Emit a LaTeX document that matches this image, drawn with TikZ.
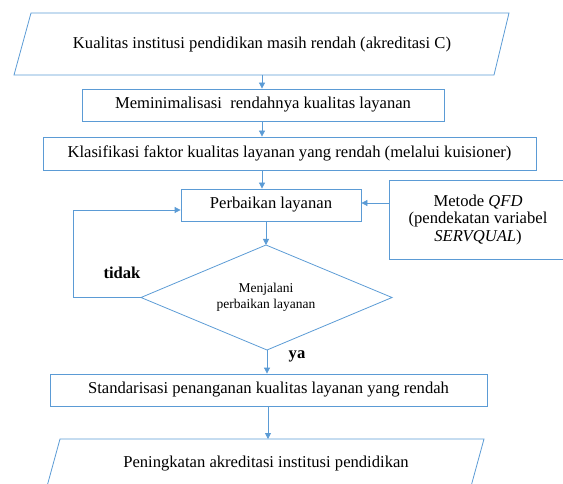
\documentclass[tikz,border=0pt]{standalone}
\usepackage{fontspec}
\setmainfont{Liberation Serif}
\newfontfamily\tnrfont{Liberation Serif}
\usetikzlibrary{arrows.meta,calc}
\definecolor{lb}{RGB}{91,155,213}
\begin{document}
\begin{tikzpicture}[x=1pt,y=-1pt,
  line/.style={draw=lb,line width=0.8pt},
  arr/.style={line,-{Triangle[length=6pt,width=6pt]}},
  box/.style={line,rectangle,inner sep=0pt,align=center,font=\tnrfont\fontsize{16.6}{17.5}\selectfont},
  txt/.style={inner sep=0pt,align=center,font=\tnrfont\fontsize{16.6}{17.5}\selectfont},
  small/.style={inner sep=0pt,align=center,font=\tnrfont\fontsize{13.5}{16}\selectfont},
  lbl/.style={inner sep=0pt,font=\tnrfont\fontsize{16.6}{18}\selectfont\bfseries}]
\useasboundingbox (0,0) rectangle (563,484);
\clip (0,0) rectangle (563,484);
% top parallelogram
\draw[line] (31,13) -- (509,13) -- (494,75) -- (14,75) -- cycle;
\node[txt] (t1) at (262,45) {Kualitas institusi pendidikan masih rendah (akreditasi C)};
\coordinate (p1b) at (262,75);
% boxes
\node[box,minimum width=362pt,minimum height=32pt] (m) at (263,105) {Meminimalisasi\ \ rendahnya kualitas layanan};
\node[box,minimum width=493pt,minimum height=33pt] (k) at (289.5,153.5) {Klasifikasi faktor kualitas layanan yang rendah (melalui kuisioner)};
\node[box,minimum width=180pt,minimum height=32pt] (perb) at (271,205) {Perbaikan layanan};
\node[box,minimum width=178pt,minimum height=79pt] (metode) at (478,219.5) {};
\node[txt] (mt) at (478,220) {Metode \textit{QFD}\\(pendekatan variabel\\\textit{SERVQUAL})};
% diamond
\coordinate (dt) at (266,245);
\coordinate (dr) at (392,297.5);
\coordinate (db) at (267,350);
\coordinate (dl) at (141,297.5);
\draw[line] (dt) -- (dr) -- (db) -- (dl) -- cycle;
\node[small] (dtext) at (266,297) {Menjalani\\perbaikan layanan};
\node[box,minimum width=437pt,minimum height=32pt] (s) at (268.5,390) {Standarisasi penanganan kualitas layanan yang rendah};
% bottom parallelogram
\draw[line] (43,501) -- (60,439) -- (484,439) -- (467,501);
\node[txt] (t2) at (266,464) {Peningkatan akreditasi institusi pendidikan};
\coordinate (p2t) at (268,439);
% labels
\node[lbl] (tidak) at (122,273) {tidak};
\node[lbl] (ya) at (297,356) {ya};
% connectors
\coordinate (lc) at (73,297.5);
\coordinate (lt) at (73,210);
\coordinate (mq) at (389,203);
\draw[arr] (p1b) -- (p1b |- m.north);
\draw[arr] (m.south -| p1b) -- (k.north -| p1b);
\draw[arr] (k.south -| p1b) -- (perb.north -| p1b);
\draw[arr] (perb.south -| dt) -- (dt);
\draw[arr] (db) -- (s.north -| db);
\draw[arr] (s.south -| p2t) -- (p2t);
\draw[arr] (dl) -- (lc) -- (lt) -- (perb.west |- lt);
\draw[arr] (metode.west |- mq) -- (perb.east |- mq);
\end{tikzpicture}
\end{document}
